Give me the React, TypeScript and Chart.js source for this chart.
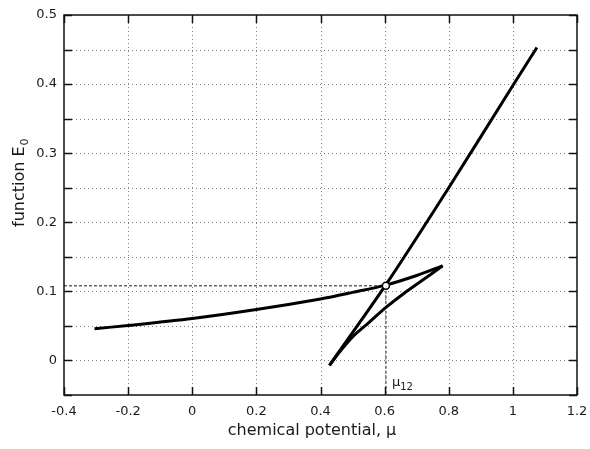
import React, { useEffect, useRef } from "react";
import { Chart, registerables } from "chart.js";

Chart.register(...registerables);

// Upper branch (from left end to upper cusp)
const muBranch1 = [-0.305, -0.2, 0, 0.2, 0.4, 0.5, 0.603, 0.7, 0.781];
const eBranch1 = [0.046, 0.0506, 0.0607, 0.0737, 0.089, 0.0985, 0.109, 0.123, 0.137];
// Middle branch (lower cusp to upper cusp)
const muBranch2 = [0.428, 0.46, 0.5, 0.55, 0.606, 0.66, 0.71, 0.781];
const eBranch2 = [-0.007, 0.0125, 0.034, 0.0545, 0.0775, 0.097, 0.1135, 0.137];
// Steep branch (lower cusp to right end)
const muBranch3 = [0.428, 0.603, 0.8, 1.0, 1.075];
const eBranch3 = [-0.007, 0.109, 0.25, 0.398, 0.453];

// Crossing point mu_12
const mu12 = 0.604;
const e12 = 0.108;

const xMin = -0.4;
const xMax = 1.2;
const xStep = 0.2;
const yMin = -0.05;
const yMax = 0.5;
const yStep = 0.05;

const xTitle = "chemical potential, μ";
const yTitle = "function E";
const yTitleSub = "0";
const markLabel = "μ";
const markLabelSub = "12";

const FONT = "'DejaVu Sans', Verdana, sans-serif";
const TEXT = "#1a1a1a";

const toPts = (xs: number[], ys: number[]) => xs.map((x, i) => ({ x, y: ys[i] }));

const framePlugin = {
  id: "frame",
  beforeDatasetsDraw(chart: any) {
    const { ctx, chartArea: a, scales } = chart;
    ctx.save();
    ctx.strokeStyle = "rgba(0,0,0,0.5)";
    ctx.lineWidth = 1;
    ctx.setLineDash([1, 3]);
    scales.x.ticks.forEach((t: any) => {
      const px = Math.round(scales.x.getPixelForValue(t.value)) + 0.5;
      if (px <= a.left + 1 || px >= a.right - 1) return;
      ctx.beginPath();
      ctx.moveTo(px, a.top);
      ctx.lineTo(px, a.bottom);
      ctx.stroke();
    });
    scales.y.ticks.forEach((t: any) => {
      const py = Math.round(scales.y.getPixelForValue(t.value)) + 0.5;
      if (py <= a.top + 1 || py >= a.bottom - 1) return;
      ctx.beginPath();
      ctx.moveTo(a.left, py);
      ctx.lineTo(a.right, py);
      ctx.stroke();
    });
    ctx.restore();
  },
  afterDatasetsDraw(chart: any) {
    const { ctx, chartArea: a, scales } = chart;
    ctx.save();
    ctx.setLineDash([]);
    ctx.strokeStyle = "#111";
    ctx.lineWidth = 1.5;
    ctx.strokeRect(a.left, a.top, a.right - a.left, a.bottom - a.top);
    const tl = 8;
    ctx.lineWidth = 1.5;
    scales.x.ticks.forEach((t: any) => {
      const px = Math.round(scales.x.getPixelForValue(t.value)) + 0.5;
      ctx.beginPath();
      ctx.moveTo(px, a.bottom);
      ctx.lineTo(px, a.bottom - tl);
      ctx.moveTo(px, a.top);
      ctx.lineTo(px, a.top + tl);
      ctx.stroke();
    });
    scales.y.ticks.forEach((t: any) => {
      const py = Math.round(scales.y.getPixelForValue(t.value)) + 0.5;
      ctx.beginPath();
      ctx.moveTo(a.left, py);
      ctx.lineTo(a.left + tl, py);
      ctx.moveTo(a.right, py);
      ctx.lineTo(a.right - tl, py);
      ctx.stroke();
    });

    ctx.fillStyle = TEXT;
    // x title
    ctx.font = `16px ${FONT}`;
    ctx.textAlign = "center";
    ctx.textBaseline = "middle";
    ctx.fillText(xTitle, 312, 431);

    // y title with subscript
    ctx.save();
    ctx.translate(20, 227);
    ctx.rotate(-Math.PI / 2);
    ctx.textAlign = "left";
    ctx.textBaseline = "middle";
    ctx.font = `16px ${FONT}`;
    ctx.fillText(yTitle, 0, 0);
    const w = ctx.measureText(yTitle).width;
    ctx.font = `11px ${FONT}`;
    ctx.fillText(yTitleSub, w + 1, 5);
    ctx.restore();

    // mu_12 label
    const lx = scales.x.getPixelForValue(mu12) + 6;
    ctx.textAlign = "left";
    ctx.textBaseline = "alphabetic";
    ctx.font = `13px ${FONT}`;
    ctx.fillText(markLabel, lx, 386);
    const mw = ctx.measureText(markLabel).width;
    ctx.font = `10px ${FONT}`;
    ctx.fillText(markLabelSub, lx + mw, 390);
    ctx.restore();
  },
};

export default function App() {
  const ref = useRef<HTMLCanvasElement | null>(null);
  useEffect(() => {
    if (!ref.current) return;
    const curve = (xs: number[], ys: number[]) => ({
      data: toPts(xs, ys),
      showLine: true,
      borderColor: "#000",
      borderWidth: 3,
      pointRadius: 0,
      tension: 0.3,
      fill: false,
    });
    const guide = (pts: { x: number; y: number }[]) => ({
      data: pts,
      showLine: true,
      borderColor: "#666",
      borderWidth: 1.5,
      borderDash: [3, 2],
      pointRadius: 0,
      tension: 0,
    });
    const chart = new Chart(ref.current, {
      type: "scatter",
      data: {
        datasets: [
          {
            data: [{ x: mu12, y: e12 }],
            pointRadius: 3.5,
            pointBackgroundColor: "#fff",
            pointBorderColor: "#000",
            pointBorderWidth: 1.5,
            showLine: false,
          },
          curve(muBranch1, eBranch1),
          curve(muBranch2, eBranch2),
          curve(muBranch3, eBranch3),
          guide([
            { x: xMin, y: e12 },
            { x: mu12, y: e12 },
          ]),
          guide([
            { x: mu12, y: e12 },
            { x: mu12, y: yMin },
          ]),
        ] as any,
      },
      options: {
        animation: false,
        responsive: false,
        devicePixelRatio: 1,
        layout: { padding: { left: 0, right: 13, top: 15, bottom: 0 } },
        plugins: { legend: { display: false }, tooltip: { enabled: false } },
        scales: {
          x: {
            type: "linear",
            min: xMin,
            max: xMax,
            grid: { display: false, drawTicks: false },
            border: { display: false },
            ticks: {
              stepSize: xStep,
              padding: 9,
              color: TEXT,
              font: { family: FONT, size: 13 },
              maxRotation: 0,
              callback: (v: any) => {
                const n = Math.round(Number(v) * 10) / 10;
                return String(n);
              },
            },
            afterFit: (s: any) => {
              s.height = 54;
              s.paddingLeft = 0;
              s.paddingRight = 0;
            },
          },
          y: {
            type: "linear",
            min: yMin,
            max: yMax,
            grid: { display: false, drawTicks: false },
            border: { display: false },
            ticks: {
              stepSize: yStep,
              padding: 7,
              color: TEXT,
              font: { family: FONT, size: 13 },
              autoSkip: false,
              callback: (v: any) => {
                const n = Number(v);
                const r = Math.round(n * 10);
                if (n < 0 || Math.abs(n * 10 - r) > 1e-6) return "";
                return String(r / 10);
              },
            },
            afterFit: (s: any) => {
              s.width = 64;
              s.paddingTop = 0;
              s.paddingBottom = 0;
            },
          },
        },
      },
      plugins: [framePlugin],
    });
    return () => chart.destroy();
  }, []);
  return (
    <div style={{ position: "absolute", left: 0, top: 0, width: 590, height: 449, background: "#fff" }}>
      <canvas ref={ref} width={590} height={449} style={{ width: 590, height: 449 }} />
    </div>
  );
}
